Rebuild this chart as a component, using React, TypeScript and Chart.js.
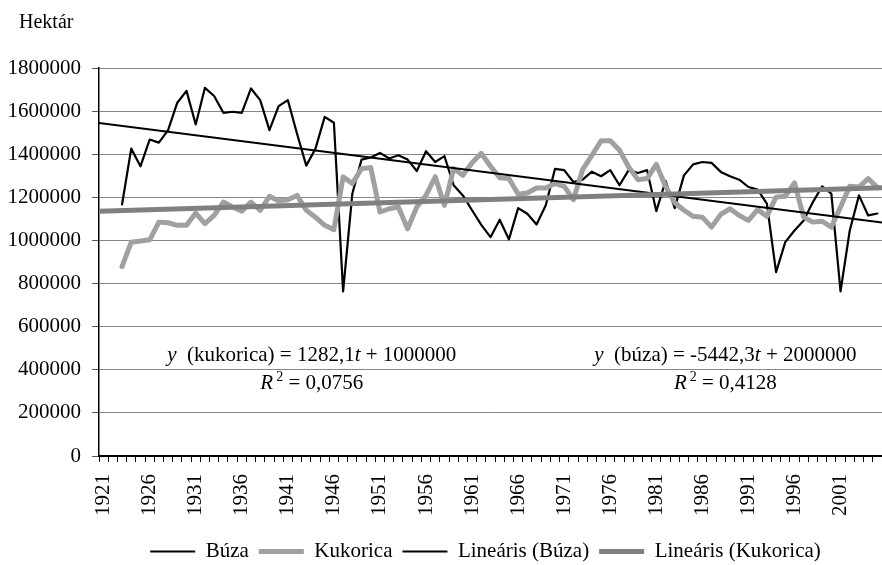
import React, { useEffect, useRef } from 'react';
import { Chart, registerables } from 'chart.js';

Chart.register(...registerables);

const FONT = "'Liberation Serif', 'Times New Roman', serif";

// Categories (years)
const years = [
  '1921', '1922', '1923', '1924', '1925', '1926', '1927', '1928', '1929', '1930',
  '1931', '1932', '1933', '1934', '1935', '1936', '1937', '1938', '1939', '1940',
  '1941', '1942', '1943', '1944', '1945', '1946', '1947', '1948', '1949', '1950',
  '1951', '1952', '1953', '1954', '1955', '1956', '1957', '1958', '1959', '1960',
  '1961', '1962', '1963', '1964', '1965', '1966', '1967', '1968', '1969', '1970',
  '1971', '1972', '1973', '1974', '1975', '1976', '1977', '1978', '1979', '1980',
  '1981', '1982', '1983', '1984', '1985', '1986', '1987', '1988', '1989', '1990',
  '1991', '1992', '1993', '1994', '1995', '1996', '1997', '1998', '1999', '2000',
  '2001', '2002', '2003', '2004', '2005',
];

// Shown tick labels
const tickLabels = ['1921', '1926', '1931', '1936', '1941', '1946', '1951', '1956', '1961', '1966', '1971', '1976', '1981', '1986', '1991', '1996', '2001'];

// Búza (wheat) area, hectares
const buza = [
  null, null, 1167000, 1426000, 1344000, 1468000, 1454000, 1512000, 1639000, 1694000,
  1538000, 1708000, 1670000, 1592000, 1597000, 1592000, 1705000, 1651000, 1512000, 1623000,
  1651000, 1495000, 1347000, 1426000, 1573000, 1546000, 764000, 1217000, 1375000, 1385000,
  1406000, 1380000, 1395000, 1375000, 1322000, 1414000, 1364000, 1391000, 1256000, 1209000,
  1140000, 1072000, 1015000, 1096000, 1005000, 1150000, 1124000, 1074000, 1163000, 1332000,
  1326000, 1271000, 1282000, 1319000, 1298000, 1326000, 1256000, 1326000, 1313000, 1326000,
  1136000, 1276000, 1150000, 1302000, 1353000, 1364000, 1360000, 1318000, 1298000, 1282000,
  1248000, 1236000, 1171000, 853000, 992000, 1046000, 1093000, 1178000, 1251000, 1217000,
  764000, 1046000, 1209000, 1116000, 1125000,
];

// Kukorica (maize) area, hectares
const kukorica = [
  null, null, 879000, 992000, 997000, 1003000, 1085000, 1082000, 1070000, 1070000,
  1127000, 1078000, 1116000, 1178000, 1155000, 1136000, 1178000, 1140000, 1205000, 1183000,
  1189000, 1209000, 1140000, 1108000, 1070000, 1050000, 1295000, 1264000, 1333000, 1338000,
  1132000, 1147000, 1155000, 1054000, 1155000, 1209000, 1295000, 1163000, 1333000, 1302000,
  1360000, 1404000, 1344000, 1291000, 1287000, 1214000, 1220000, 1243000, 1243000, 1264000,
  1251000, 1189000, 1329000, 1395000, 1462000, 1462000, 1419000, 1341000, 1282000, 1287000,
  1353000, 1251000, 1175000, 1140000, 1112000, 1108000, 1062000, 1121000, 1147000, 1116000,
  1093000, 1143000, 1112000, 1201000, 1205000, 1267000, 1108000, 1085000, 1089000, 1062000,
  1155000, 1251000, 1248000, 1287000, 1245000,
];

// Linear trend endpoints (axis edges)
const trendYears = [1920.5, 2005.5];
const buzaTrend = [1545000, 1083000];
const kukoricaTrend = [1136000, 1245000];

// Y axis
const yMin = 0;
const yMax = 1800000;
const yStep = 200000;
const yTitle = 'Hektár';

// Series names
const seriesNames = ['Búza', 'Kukorica', 'Lineáris (Búza)', 'Lineáris (Kukorica)'];

// Trendline equation labels
type Run = { t: string; italic?: boolean; sup?: boolean };
const kukEqLine: Run[] = [{ t: 'y', italic: true }, { t: '  (kukorica) = 1282,1' }, { t: 't', italic: true }, { t: ' + 1000000' }];
const kukR2Line: Run[] = [{ t: 'R', italic: true }, { t: '2', sup: true }, { t: ' = 0,0756' }];
const buzaEqLine: Run[] = [{ t: 'y', italic: true }, { t: '  (búza) = -5442,3' }, { t: 't', italic: true }, { t: ' + 2000000' }];
const buzaR2Line: Run[] = [{ t: 'R', italic: true }, { t: '2', sup: true }, { t: ' = 0,4128' }];
const annotationYears = [1943.6, 1988.5];
const annotationEqValues = [442000, 442000];
const annotationR2Values = [312000, 312000];
const annotationLines = [[kukEqLine, kukR2Line], [buzaEqLine, buzaR2Line]];

const FS = 21;

function runFont(r: Run) {
  const size = r.sup ? 14 : FS;
  return `${r.italic ? 'italic ' : ''}${size}px ${FONT}`;
}

function drawRuns(ctx: CanvasRenderingContext2D, runs: Run[], cx: number, y: number) {
  let total = 0;
  const widths = runs.map((r) => {
    ctx.font = runFont(r);
    const w = ctx.measureText(r.t).width + (r.sup ? 3 : 0);
    total += w;
    return w;
  });
  let x = cx - total / 2;
  runs.forEach((r, i) => {
    ctx.font = runFont(r);
    ctx.fillText(r.t, x + (r.sup ? 3 : 0), r.sup ? y - 8 : y);
    x += widths[i];
  });
}

const textPlugin = {
  id: 'textPlugin',
  afterDraw(chart: any) {
    const ctx: CanvasRenderingContext2D = chart.ctx;
    const xs = chart.scales.xt;
    const ys = chart.scales.y;
    const area = chart.chartArea;
    ctx.save();
    ctx.fillStyle = '#000';
    ctx.textBaseline = 'alphabetic';
    ctx.textAlign = 'left';
    annotationLines.forEach((lines, i) => {
      const cx = xs.getPixelForValue(annotationYears[i]);
      drawRuns(ctx, lines[0], cx, ys.getPixelForValue(annotationEqValues[i]));
      drawRuns(ctx, lines[1], cx, ys.getPixelForValue(annotationR2Values[i]));
    });
    ctx.font = `20px ${FONT}`;
    ctx.fillText(yTitle, area.left - 80, area.top - 40);
    ctx.restore();
  },
};

const legendShift = {
  id: 'legendShift',
  afterLayout(chart: any) {
    const lg = chart.legend;
    if (!lg) return;
    const ca = chart.chartArea;
    const d = (ca.left + ca.right) / 2 - (lg.left + lg.right) / 2 - 5;
    lg.left += d;
    lg.right += d;
    lg.top += 3;
    lg.bottom += 3;
  },
};

export default function App() {
  const ref = useRef<HTMLCanvasElement>(null);

  useEffect(() => {
    const canvas = ref.current;
    if (!canvas) return;
    const lineCommon = {
      pointRadius: 0,
      pointHoverRadius: 0,
      tension: 0,
      borderJoinStyle: 'round' as const,
      borderCapStyle: 'round' as const,
      fill: false,
    };
    const chart = new Chart(canvas, {
      type: 'line',
      data: {
        labels: years,
        datasets: [
          { ...lineCommon, label: seriesNames[0], data: buza, borderColor: '#000000', backgroundColor: '#000000', borderWidth: 2.2, order: 4 },
          { ...lineCommon, label: seriesNames[1], data: kukorica, borderColor: '#a0a0a0', backgroundColor: '#a0a0a0', borderWidth: 5, order: 3 },
          {
            ...lineCommon,
            label: seriesNames[2],
            xAxisID: 'xt',
            data: trendYears.map((x, i) => ({ x, y: buzaTrend[i] })),
            borderColor: '#000000',
            backgroundColor: '#000000',
            borderWidth: 2,
            order: 2,
          },
          {
            ...lineCommon,
            label: seriesNames[3],
            xAxisID: 'xt',
            data: trendYears.map((x, i) => ({ x, y: kukoricaTrend[i] })),
            borderColor: '#808080',
            backgroundColor: '#808080',
            borderWidth: 5,
            order: 1,
          },
        ] as any,
      },
      options: {
        animation: false,
        responsive: true,
        maintainAspectRatio: false,
        spanGaps: false,
        layout: { padding: { top: 68, right: 0, left: 0, bottom: -4 } },
        plugins: {
          tooltip: { enabled: false },
          title: { display: false },
          legend: {
            display: true,
            position: 'bottom',
            labels: {
              usePointStyle: true,
              pointStyle: 'line',
              pointStyleWidth: 45,
              padding: 10,
              color: '#000',
              font: { family: FONT, size: FS },
              sort: (a: any, b: any) => a.datasetIndex - b.datasetIndex,
            },
          },
        },
        scales: {
          x: {
            type: 'category',
            offset: true,
            afterFit: (scale: any) => {
              scale.paddingLeft = 0;
              scale.paddingRight = 0;
            },
            grid: {
              display: true,
              offset: true,
              drawOnChartArea: false,
              drawTicks: true,
              tickLength: 6,
              tickColor: '#000',
              color: '#000',
            },
            border: { display: true, color: '#000', width: 2 },
            ticks: {
              autoSkip: false,
              maxRotation: 90,
              minRotation: 90,
              padding: 12,
              color: '#000',
              font: { family: FONT, size: FS },
              callback: (_v: any, idx: number) => (tickLabels.includes(years[idx]) ? years[idx] : ''),
            },
          },
          xt: {
            type: 'linear',
            display: false,
            min: trendYears[0],
            max: trendYears[1],
          },
          y: {
            type: 'linear',
            min: yMin,
            max: yMax,
            afterFit: (scale: any) => {
              scale.width = 99;
            },
            ticks: {
              stepSize: yStep,
              padding: 11,
              color: '#000',
              font: { family: FONT, size: FS },
              callback: (v: any) => String(v),
            },
            grid: {
              color: '#868686',
              lineWidth: 1,
              drawTicks: true,
              tickLength: 7,
              tickColor: '#555',
            },
            border: { display: true, color: '#000', width: 1.5 },
          },
        },
      } as any,
      plugins: [textPlugin, legendShift],
    });
    return () => chart.destroy();
  }, []);

  return (
    <div style={{ position: 'absolute', left: 0, top: 0, width: 882, height: 565, background: '#fff' }}>
      <canvas ref={ref} />
    </div>
  );
}
